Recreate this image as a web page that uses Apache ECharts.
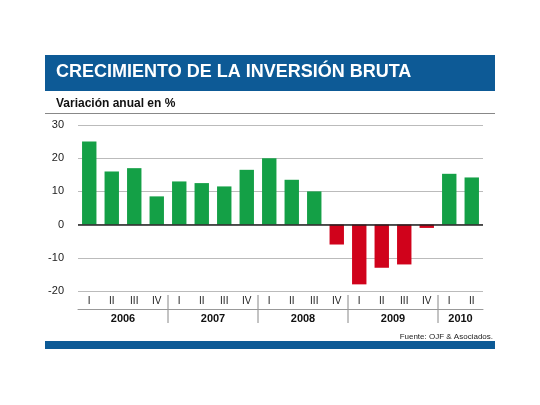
<!DOCTYPE html>
<html>
<head>
<meta charset="utf-8">
<script src="https://cdn.jsdelivr.net/npm/echarts@6/dist/echarts.min.js"></script>
<style>body{margin:0;background:#fff}#chart{width:540px;height:405px}</style>
</head>
<body>
<div id="chart"></div>
<script>
// quarters and yearly variation of gross investment
const quarters = ['I','II','III','IV','I','II','III','IV','I','II','III','IV','I','II','III','IV','I','II'];
const values = [25, 16, 17, 8.5, 13, 12.5, 11.5, 16.5, 20, 13.5, 10, -6, -18, -13, -12, -1, 15.3, 14.2];
const years = ['2006', '2007', '2008', '2009', '2010'];
const yearCenters = [2, 6, 10, 14, 17];
const yearBounds = [4, 8, 12, 16];
const yTicks = [-20, -10, 0, 10, 20, 30];

const chart = echarts.init(document.getElementById('chart'));
const font = 'Liberation Sans Narrow, Arial Narrow, Liberation Sans, sans-serif';

chart.setOption({
  animation: false,
  grid: { left: 78, right: 57, top: 125, bottom: 114 },
  xAxis: [{
    type: 'category', data: quarters,
    axisLine: { show: false }, axisTick: { show: false },
    axisLabel: { color: '#222', fontFamily: font, fontSize: 10, margin: 5 }
  }, {
    type: 'value', min: 0, max: 18, interval: 1, position: 'bottom', offset: 18,
    axisLine: { show: true, lineStyle: { color: '#999' } },
    axisTick: { show: false }, splitLine: { show: false },
    axisLabel: {
      color: '#111', fontFamily: font, fontWeight: 'bold', fontSize: 11, margin: 4,
      formatter: v => { const i = yearCenters.indexOf(v); return i >= 0 ? years[i] : ''; }
    }
  }],
  yAxis: {
    type: 'value', min: yTicks[0], max: yTicks[yTicks.length - 1], interval: 10,
    axisLine: { show: false }, axisTick: { show: false },
    axisLabel: { color: '#222', fontFamily: font, fontSize: 11, margin: 14 },
    splitLine: { lineStyle: { color: '#bbb' } }
  },
  series: [{
    type: 'bar', data: values, barWidth: '64%',
    itemStyle: { color: p => p.value >= 0 ? '#14a046' : '#d0021b' },
    markLine: {
      symbol: 'none', silent: true, label: { show: false },
      lineStyle: { color: '#222', width: 1.5, type: 'solid' },
      data: [{ yAxis: 0 }]
    }
  }],
  graphic: [
    { type: 'rect', shape: { x: 45, y: 55, width: 450, height: 36 }, style: { fill: '#0d5a96' } },
    { type: 'text', left: 56, top: 63, style: { text: 'CRECIMIENTO DE LA INVERSIÓN BRUTA', fill: '#fff', font: 'bold 18px ' + font } },
    { type: 'text', left: 56, top: 98, style: { text: 'Variación anual en %', fill: '#111', font: 'bold 12px ' + font } },
    { type: 'rect', shape: { x: 45, y: 113, width: 450, height: 1 }, style: { fill: '#888' } },
    { type: 'text', right: 47, top: 333, style: { text: 'Fuente: OJF & Asociados.', fill: '#222', font: '8px ' + font } },
    { type: 'rect', shape: { x: 45, y: 341, width: 450, height: 8 }, style: { fill: '#0d5a96' } }
  ]
});

// year separators at group boundaries
const seps = yearBounds.map(b => {
  const x = chart.convertToPixel({ xAxisIndex: 1 }, b);
  return { type: 'line', shape: { x1: x, y1: 295, x2: x, y2: 323 }, style: { stroke: '#888', lineWidth: 1 } };
});
const opt = chart.getOption();
chart.setOption({ graphic: opt.graphic[0].elements.concat(seps) }, { replaceMerge: ['graphic'] });
</script>
</body>
</html>
